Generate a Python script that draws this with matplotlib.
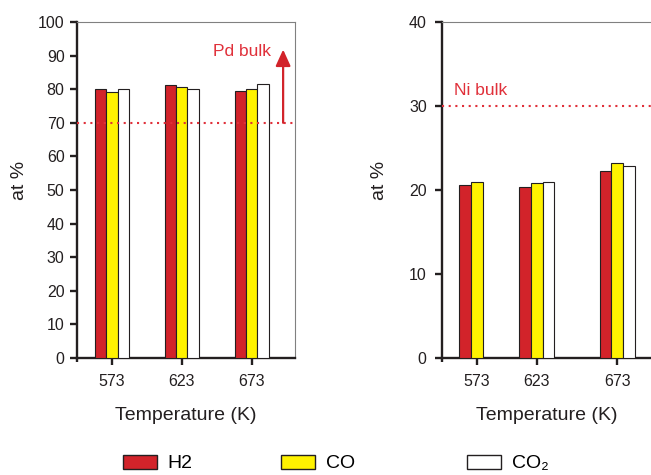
import numpy as np
import matplotlib
matplotlib.use("Agg")
import matplotlib.pyplot as plt
from matplotlib.patches import Patch

plt.rcParams["font.family"] = ["Liberation Sans", "DejaVu Sans"]

# data
temps = ["573", "623", "673"]
series = ["H2", "CO", "CO\u2082"]

pd_h2 = [80.0, 81.3, 79.6]
pd_co = [79.1, 80.6, 80.1]
pd_co2 = [80.1, 80.0, 81.4]
pd_bulk = 70

ni_h2 = [20.6, 20.35, 22.3]
ni_co = [21.0, 20.8, 23.25]
ni_co2 = [np.nan, 21.0, 22.8]
ni_bulk = 30

RED = "#d2232a"
YELLOW = "#fff200"
WHITE = "#ffffff"
EDGE = "#231f20"
LINE_RED = "#e0303a"
colors = [RED, YELLOW, WHITE]


def style_axes(ax, ypad):
    # thick black left/bottom, thin grey top/right
    for s in ["left", "bottom"]:
        ax.spines[s].set_linewidth(1.7)
        ax.spines[s].set_color(EDGE)
    for s in ["top", "right"]:
        ax.spines[s].set_linewidth(0.8)
        ax.spines[s].set_color("#808080")
    ax.tick_params(axis="both", direction="out", length=5, width=1.7,
                   color=EDGE, labelsize=11.5, labelcolor="#231f20")
    ax.tick_params(axis="x", pad=6.5)
    ax.tick_params(axis="y", pad=ypad)
    ax.tick_params(axis="x", which="minor", length=3, width=1.7, color=EDGE)


def draw_bars(ax, pos, vals, w):
    # three bars per group, middle bar sits on the tick
    pos = np.asarray(pos)
    for i, (v, c) in enumerate(zip(vals, colors)):
        ax.bar(pos + (i - 1) * w, v, width=w, color=c, edgecolor=EDGE,
               linewidth=0.8, zorder=3)


fig = plt.figure(figsize=(6.51, 4.75), dpi=100)
ax1 = fig.add_axes([77 / 651, 1 - 358 / 475, 218 / 651, 336 / 475])
ax2 = fig.add_axes([442 / 651, 1 - 358 / 475, 210 / 651, 336 / 475])

# left panel (Pd)
pos1 = [0, 1, 2]
draw_bars(ax1, pos1, [pd_h2, pd_co, pd_co2], 0.162)
ax1.set_xlim(-0.5, 2.62)
ax1.set_ylim(0, 100)
ax1.set_yticks(np.arange(0, 101, 10))
ax1.set_xticks(pos1)
ax1.set_xticklabels(temps)
ax1.set_xticks([-0.5], minor=True)
ax1.axhline(pd_bulk, color=LINE_RED, lw=1.5, ls=(0, (1, 2.2)), zorder=4)
ax1.annotate("", xy=(2.45, 91.8), xytext=(2.45, pd_bulk),
             arrowprops=dict(arrowstyle="-|>,head_length=0.55,head_width=0.25",
                             color=RED, lw=1.6, mutation_scale=18,
                             shrinkA=0, shrinkB=0), zorder=5)
ax1.text(2.28, 91.2, "Pd bulk", color=LINE_RED, fontsize=12.5,
         ha="right", va="center")
style_axes(ax1, 4)

# right panel (Ni)
pos2 = [0, 1, 2.34]
draw_bars(ax2, pos2, [ni_h2, ni_co, ni_co2], 0.193)
ax2.set_xlim(-0.58, 2.92)
ax2.set_ylim(0, 40)
ax2.set_yticks(np.arange(0, 41, 10))
ax2.set_xticks(pos2)
ax2.set_xticklabels(temps)
ax2.set_xticks([-0.58], minor=True)
ax2.axhline(ni_bulk, color=LINE_RED, lw=1.5, ls=(0, (1, 2.2)), zorder=4)
ax2.text(-0.38, 31.9, "Ni bulk", color=LINE_RED, fontsize=12.5,
         ha="left", va="center")
style_axes(ax2, 6)

for ax, lx in [(ax1, -0.225), (ax2, -0.257)]:
    ax.set_xlabel("Temperature (K)", fontsize=14, color="#231f20")
    ax.set_ylabel("at %", fontsize=14, color="#231f20")
    ax.xaxis.set_label_coords(0.5, -0.146)
    ax.yaxis.set_label_coords(lx, 0.527)

# legend entries spread along the bottom
leg_x = [123 / 651, 281 / 651, 467 / 651]
for x, lab, c in zip(leg_x, series, colors):
    h = Patch(facecolor=c, edgecolor=EDGE, linewidth=1.0)
    fig.legend([h], [lab], loc="center left", bbox_to_anchor=(x, 0.024),
               frameon=False, fontsize=14, borderpad=0, borderaxespad=0,
               handlelength=1.75, handleheight=0.72, handletextpad=0.55)

fig.savefig("out.png", dpi=100)
